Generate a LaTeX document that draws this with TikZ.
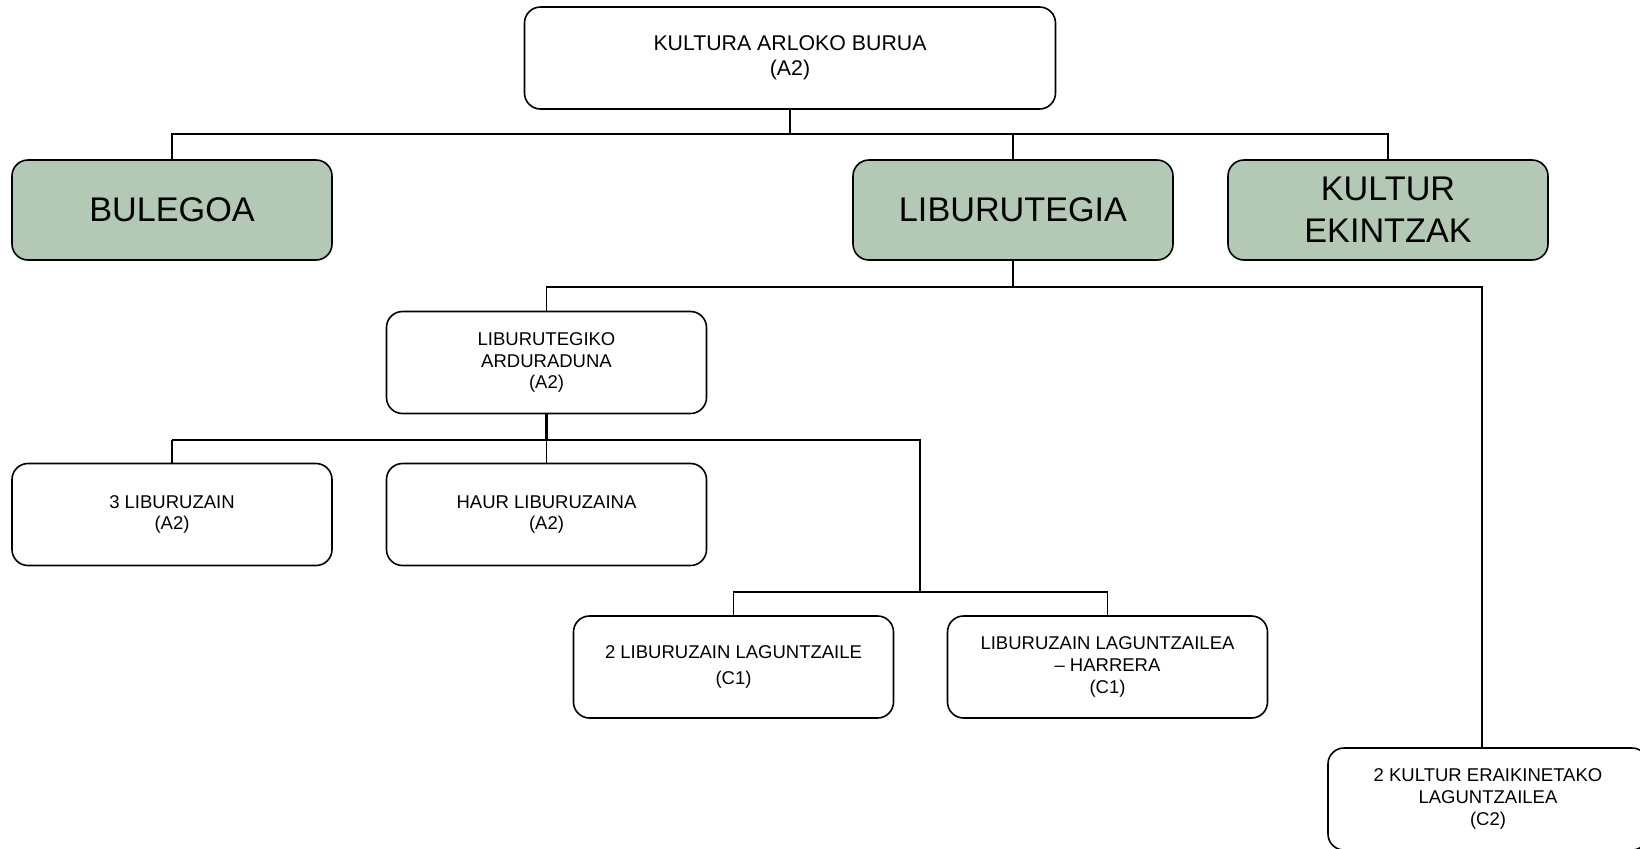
\documentclass[tikz,border=0pt]{standalone}
\usepackage{fontspec}
\setmainfont{Liberation Sans}
\usetikzlibrary{positioning}

\definecolor{unitgreen}{RGB}{179,201,181}

\begin{document}
\begin{tikzpicture}[x=0.5pt,y=-0.5pt,node distance=187.5pt,
    post/.style={draw,line width=0.8pt,rounded corners=8pt,align=center,
      minimum width=160pt,minimum height=51pt,inner sep=2pt,
      font=\fontsize{9.25pt}{10.8pt}\selectfont},
    head/.style={post,minimum width=265.5pt,
      font=\fontsize{10.65pt}{12.5pt}\selectfont},
    unit/.style={post,fill=unitgreen,minimum height=50pt,
      font=\fontsize{17.1pt}{21pt}\selectfont},
    link/.style={line width=0.75pt},
    heavy/.style={line width=1.2pt}]
  \useasboundingbox (0,0) rectangle (1640,848);

  \node[head] (burua) at (790,58) {KULTURA ARLOKO BURUA\\(A2)};

  \node[unit] (liburutegia) at (1013,210) {LIBURUTEGIA};
  \node[unit] (bulegoa) [node distance=420.5pt, left of=liburutegia] {BULEGOA};
  \node[unit] (ekintzak) [right of=liburutegia] {KULTUR\\EKINTZAK};

  \node[post] (arduraduna) at (546.5,362.5) {LIBURUTEGIKO\\ARDURADUNA\\(A2)};
  \node[post] (haur) [node distance=76pt, below of=arduraduna] {HAUR LIBURUZAINA\\(A2)};
  \node[post] (liburuzain) [node distance=187.25pt, left of=haur] {3 LIBURUZAIN\\(A2)};

  \node[post] (laguntzaile) at (733.5,667) {2 LIBURUZAIN LAGUNTZAILE\\[2.5pt](C1)};
  \node[post] (harrera) [node distance=187pt, right of=laguntzaile] {LIBURUZAIN LAGUNTZAILEA\\– HARRERA\\(C1)};

  \node[post] (eraikin) at (1488,799) {2 KULTUR ERAIKINETAKO\\LAGUNTZAILEA\\(C2)};
  \coordinate (eraikintop) at ([xshift=-3pt]eraikin.north);

  % first level
  \coordinate (bus1) at (790,134);
  \draw[link] (burua.south) -- (bus1);
  \draw[link] (bulegoa.north) |- (bus1) -| (ekintzak.north);
  \draw[link] (liburutegia.north) -- (liburutegia.north |- bus1);

  % library
  \coordinate (bus2) at (1013,287);
  \draw[link] (liburutegia.south) -- (bus2);
  \draw[link] (arduraduna.north) |- (bus2) -| (eraikintop);

  % library staff
  \coordinate (bus3) at (546.5,440);
  \coordinate (bend) at (920,592);
  \draw[heavy] (arduraduna.south) -- (bus3) -- (bus3 -| liburuzain.north);
  \draw[link] (bus3 -| liburuzain.north) -- (liburuzain.north);
  \draw[link] (haur.north) -- (bus3) -| (bend);
  \draw[link] (laguntzaile.north) |- (bend) -| (harrera.north);
\end{tikzpicture}
\end{document}
